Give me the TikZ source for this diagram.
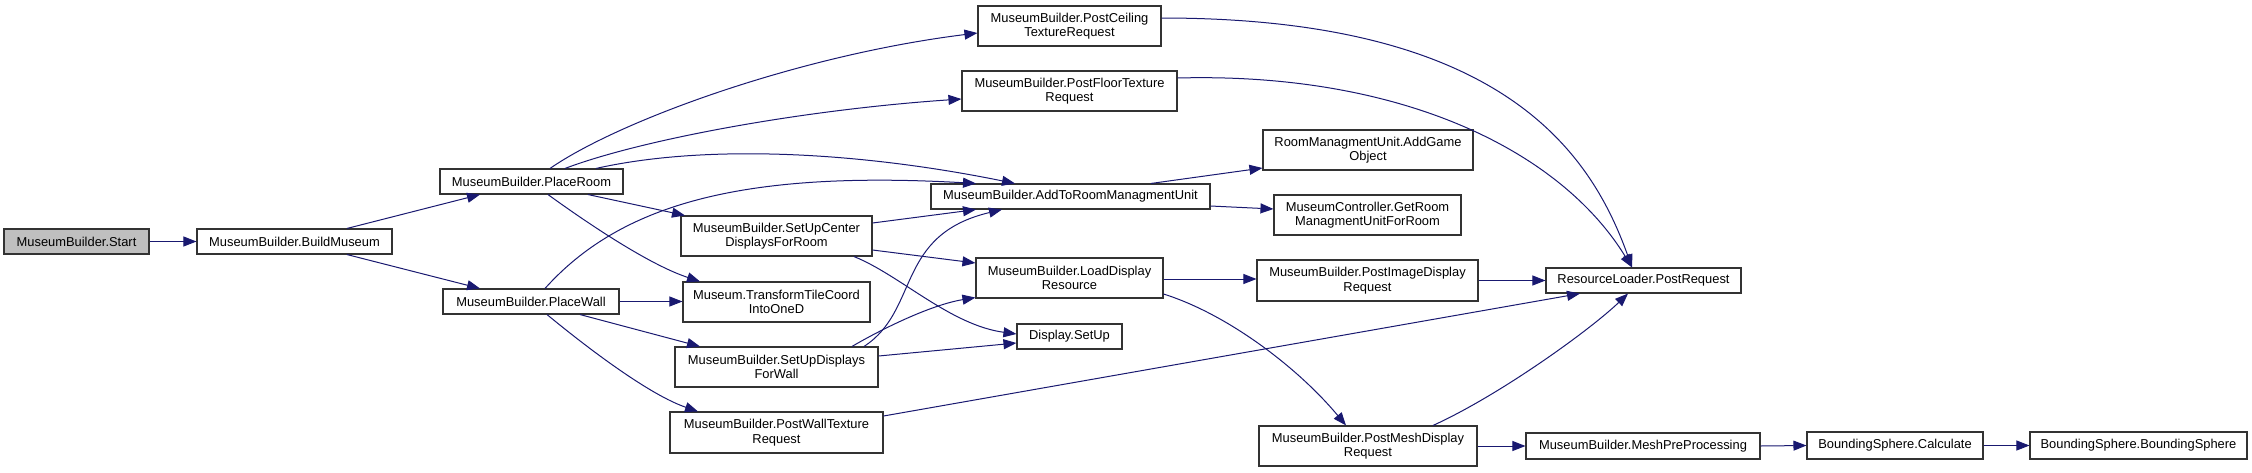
\documentclass[tikz,border=0pt]{standalone}
\usepackage{fontspec}
\setmainfont{Liberation Sans}
\usetikzlibrary{arrows.meta,calc}
\definecolor{edgeblue}{RGB}{25,25,112}
\definecolor{startgray}{RGB}{191,191,191}
\begin{document}
\begin{tikzpicture}[x=1pt,y=-1pt,
  box/.style={draw=black!80, line width=1.1pt, fill=white, inner sep=0pt, align=center,
    font=\fontsize{12.9}{14.5}\selectfont},
  call/.style={draw=edgeblue, line width=1pt, -{Triangle[length=13pt,width=10pt]}, fill=none}]
\useasboundingbox (0,0) rectangle (2252,472);
% nodes
\node[box, fill=startgray, minimum width=145, minimum height=25] (start) at (76.5,241.5) {MuseumBuilder.Start};
\node[box, minimum width=195, minimum height=25] (build) at (294.5,241.5) {MuseumBuilder.BuildMuseum};
\node[box, minimum width=183, minimum height=25] (room) at (531.5,181.5) {MuseumBuilder.PlaceRoom};
\node[box, minimum width=176, minimum height=25] (wall) at (531,301.5) {MuseumBuilder.PlaceWall};
\node[box, minimum width=183, minimum height=40] (ceil) at (1069.5,26) {MuseumBuilder.PostCeiling\\TextureRequest};
\node[box, minimum width=215, minimum height=40] (floor) at (1069.5,91) {MuseumBuilder.PostFloorTexture\\Request};
\node[box, minimum width=279, minimum height=25] (addto) at (1070.5,196.5) {MuseumBuilder.AddToRoomManagmentUnit};
\node[box, minimum width=191, minimum height=40] (center) at (776.5,236) {MuseumBuilder.SetUpCenter\\DisplaysForRoom};
\node[box, minimum width=187, minimum height=40] (transform) at (776.5,302) {Museum.TransformTileCoord\\IntoOneD};
\node[box, minimum width=203, minimum height=40] (wallsetup) at (776.5,367) {MuseumBuilder.SetUpDisplays\\ForWall};
\node[box, minimum width=213, minimum height=41] (postwall) at (776.5,432.5) {MuseumBuilder.PostWallTexture\\Request};
\node[box, minimum width=187, minimum height=40] (load) at (1069.5,278) {MuseumBuilder.LoadDisplay\\Resource};
\node[box, minimum width=105, minimum height=25] (setup) at (1069.5,336.5) {Display.SetUp};
\node[box, minimum width=210, minimum height=40] (addgame) at (1368,150) {RoomManagmentUnit.AddGame\\Object};
\node[box, minimum width=187, minimum height=40] (getroom) at (1367.5,215) {MuseumController.GetRoom\\ManagmentUnitForRoom};
\node[box, minimum width=221, minimum height=41] (postimage) at (1367.5,280.5) {MuseumBuilder.PostImageDisplay\\Request};
\node[box, minimum width=218, minimum height=40] (postmesh) at (1368,446) {MuseumBuilder.PostMeshDisplay\\Request};
\node[box, minimum width=195, minimum height=25] (resource) at (1643.5,280.5) {ResourceLoader.PostRequest};
\node[box, minimum width=234, minimum height=26] (meshpre) at (1643,446) {MuseumBuilder.MeshPreProcessing};
\node[box, minimum width=176, minimum height=27] (calc) at (1895,445.5) {BoundingSphere.Calculate};
\node[box, minimum width=217, minimum height=27] (bsphere) at (2138.5,445.5) {BoundingSphere.BoundingSphere};
% edges
\draw[call] (start.east) -- (build.west);
\draw[call] ($(build.north)+(52.5,0)$) -- ($(room.south)+(-51.5,0)$);
\draw[call] ($(build.south)+(52.5,0)$) -- ($(wall.north)+(-51,0)$);
\draw[call] ($(room.north)+(18.5,0)$) .. controls (620,120) and (800,55) .. ($(ceil.west)+(0,7)$);
\draw[call] ($(room.north)+(33.5,0)$) .. controls (640,140) and (800,110) .. ($(floor.west)+(0,8)$);
\draw[call] ($(room.north)+(64.5,0)$) .. controls (700,145) and (850,150) .. ($(addto.north)+(-55.5,0)$);
\draw[call] ($(room.south)+(56.5,0)$) -- ($(center.north)+(-91.5,0)$);
\draw[call] ($(room.south)+(16.5,0)$) .. controls (590,225) and (650,265) .. ($(transform.north)+(-76.5,0)$);
\draw[call] (wall.east) -- (wall.east -| transform.west);
\draw[call] ($(wall.north)+(14,0)$) .. controls (620,205) and (740,170) .. ($(addto.north)+(-94.5,0)$);
\draw[call] ($(wall.south)+(49,0)$) -- ($(wallsetup.north)+(-76.5,0)$);
\draw[call] ($(wall.south)+(16,0)$) .. controls (590,350) and (650,395) .. ($(postwall.north)+(-78.5,0)$);
\draw[call] ($(center.east)+(0,-13)$) -- ($(addto.south)+(-94.5,0)$);
\draw[call] ($(center.east)+(0,14)$) -- ($(load.west)+(0,-15)$);
\draw[call] ($(center.south)+(77.5,0)$) .. controls (900,275) and (950,325) .. ($(setup.west)+(0,-2.5)$);
\draw[call] ($(wallsetup.north)+(87.5,0)$) .. controls (920,310) and (895,235) .. ($(addto.south)+(-68.5,0)$);
\draw[call] ($(wallsetup.north)+(75.5,0)$) .. controls (880,330) and (930,305) .. ($(load.south west)+(0,-1)$);
\draw[call] ($(wallsetup.east)+(0,-11)$) -- ($(setup.west)+(0,6.5)$);
\draw[call] ($(addto.north)+(80.5,0)$) -- ($(addgame.west)+(0,18)$);
\draw[call] ($(addto.east)+(0,9.5)$) -- ($(getroom.west)+(0,-6)$);
\draw[call] ($(load.east)+(0,1)$) -- ($(postimage.west)+(0,-1.5)$);
\draw[call] ($(load.east)+(0,16)$) .. controls (1230,315) and (1300,370) .. ($(postmesh.north)+(-22,0)$);
\draw[call] ($(ceil.east)+(0,-8)$) .. controls (1500,18) and (1590,150) .. ($(resource.north)+(-11.5,0)$);
\draw[call] ($(floor.east)+(0,-13)$) .. controls (1400,72) and (1560,150) .. ($(resource.north)+(-11.5,0)$);
\draw[call] (postimage.east) -- (resource.west);
\draw[call] ($(postwall.east)+(0,-16.5)$) -- ($(resource.south)+(-63.5,0)$);
\draw[call] ($(postmesh.north)+(65,0)$) .. controls (1500,395) and (1590,330) .. ($(resource.south)+(-15.5,0)$);
\draw[call] (postmesh.east) -- (meshpre.west);
\draw[call] (meshpre.east) -- (calc.west);
\draw[call] (calc.east) -- (bsphere.west);
\end{tikzpicture}
\end{document}
